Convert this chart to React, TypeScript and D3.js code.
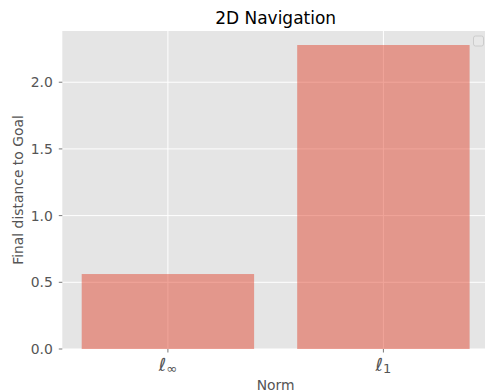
import React from "react";
import * as d3 from "d3";

const categories = ["inf", "1"];
const subscripts = ["∞", "1"];
const values = [0.562, 2.279];
const yTicks = [0, 0.5, 1.0, 1.5, 2.0];

const W = 485;
const H = 391;
const left = 62.3;
const right = 489;
const top = 31;
const bottom = 349;

export default function App() {
  const x = d3.scaleLinear().domain([-0.49, 1.49]).range([left, right]);
  const y = d3.scaleLinear().domain([0, 2.384]).range([bottom, top]);
  const barW = 0.8;
  const font = "DejaVu Sans, sans-serif";
  return (
    <svg width={W} height={H} style={{ position: "absolute", left: 0, top: 0 }}>
      <defs>
        <clipPath id="fig">
          <rect x={0} y={0} width={W} height={H} />
        </clipPath>
      </defs>
      <rect x={0} y={0} width={W} height={H} fill="#ffffff" />
      <g clipPath="url(#fig)">
        <rect x={left} y={top} width={right - left} height={bottom - top} fill="#E5E5E5" />
        {yTicks.map((t) => (
          <line key={"gy" + t} x1={left} x2={right} y1={y(t)} y2={y(t)} stroke="#ffffff" strokeWidth={1} />
        ))}
        {categories.map((c, i) => (
          <line key={"gx" + c} x1={x(i)} x2={x(i)} y1={top} y2={bottom} stroke="#ffffff" strokeWidth={1} />
        ))}
        {values.map((v, i) => (
          <rect
            key={"b" + i}
            x={x(i - barW / 2)}
            y={y(v)}
            width={x(i + barW / 2) - x(i - barW / 2)}
            height={y(0) - y(v)}
            fill="#E24A33"
            fillOpacity={0.5}
          />
        ))}
        {yTicks.map((t) => (
          <g key={"ty" + t}>
            <line x1={left - 3.5} x2={left} y1={y(t)} y2={y(t)} stroke="#555555" strokeWidth={0.8} />
            <text
              x={left - 9.5}
              y={y(t)}
              dy="0.36em"
              textAnchor="end"
              fontFamily={font}
              fontSize={13.9}
              fill="#555555"
            >
              {d3.format(".1f")(t)}
            </text>
          </g>
        ))}
        {categories.map((c, i) => (
          <g key={"tx" + c}>
            <line x1={x(i)} x2={x(i)} y1={bottom} y2={bottom + 3.5} stroke="#555555" strokeWidth={0.8} />
            <text x={x(i)} y={370.5} textAnchor="middle" fontFamily={font} fill="#555555">
              <tspan fontSize={18} fontStyle="italic">ℓ</tspan>
              <tspan fontSize={13} dy={2.5}>{subscripts[i]}</tspan>
            </text>
          </g>
        ))}
        <text
          x={(left + right) / 2}
          y={24}
          textAnchor="middle"
          fontFamily={font}
          fontSize={17}
          fill="#000000"
        >
          2D Navigation
        </text>
        <text
          x={(left + right) / 2}
          y={390}
          textAnchor="middle"
          fontFamily={font}
          fontSize={13.9}
          fill="#555555"
        >
          Norm
        </text>
        <text
          transform={`translate(23,${(top + bottom) / 2}) rotate(-90)`}
          textAnchor="middle"
          fontFamily={font}
          fontSize={13.9}
          fill="#555555"
        >
          Final distance to Goal
        </text>
        <rect x={473.5} y={36} width={10} height={10} rx={2} fill="#e8e8e8" stroke="#cccccc" strokeWidth={1} />
      </g>
    </svg>
  );
}
